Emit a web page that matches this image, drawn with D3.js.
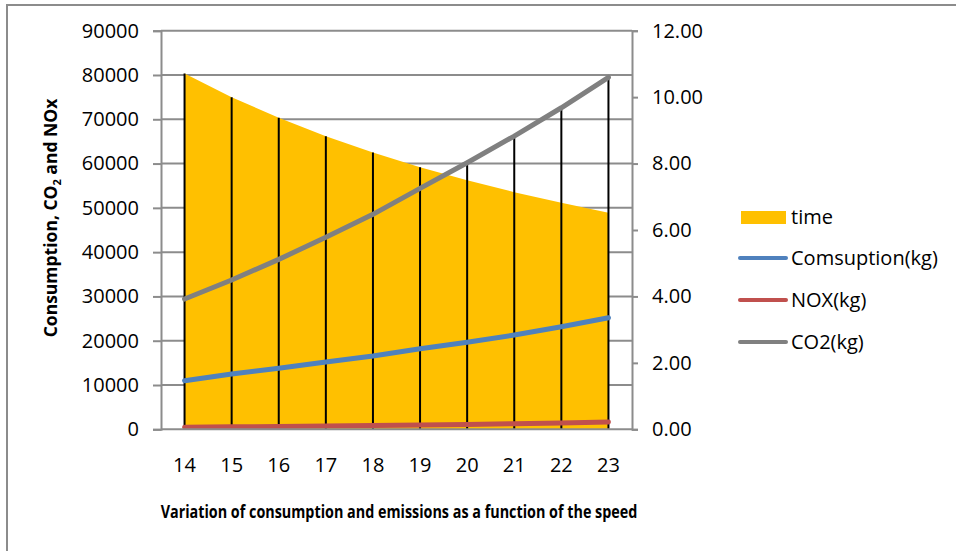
<!DOCTYPE html>
<html><head><meta charset="utf-8">
<script src="https://cdn.jsdelivr.net/npm/d3@7"></script>
<style>body{margin:0;background:#fff}svg{display:block}text{font-family:"Open Sans",sans-serif;fill:#000}</style>
</head><body><svg id="c" width="956" height="551"></svg>
<script>
const categories = [14, 15, 16, 17, 18, 19, 20, 21, 22, 23];
const time = [10.71, 10.00, 9.38, 8.82, 8.33, 7.89, 7.50, 7.14, 6.82, 6.52];
const consumption = [10970, 12480, 13770, 15190, 16550, 18190, 19640, 21290, 23160, 25190];
const nox = [450, 550, 650, 770, 880, 950, 1100, 1250, 1420, 1650];
const co2 = [29410, 33700, 38370, 43340, 48530, 54400, 60180, 66210, 72600, 79460];
const leftTicks = [0, 10000, 20000, 30000, 40000, 50000, 60000, 70000, 80000, 90000];
const rightTicks = [0, 2, 4, 6, 8, 10, 12];
const legendItems = ["time", "Comsuption(kg)", "NOX(kg)", "CO2(kg)"];
const colors = {time: "#FFC000", cons: "#4F81BD", nox: "#C0504D", co2: "#808080"};

const svg = d3.select("#c");
svg.append("rect").attr("x", 7).attr("y", 5).attr("width", 960).attr("height", 560)
  .attr("fill", "#fff").attr("stroke", "#8c8c8c").attr("stroke-width", 2);

const L = 161, R = 632, B = 429.3, T = 30.7;
const x = d3.scaleBand().domain(categories).range([L, R]);
const cx = d => x(d) + x.bandwidth() / 2;
const yL = d3.scaleLinear().domain([0, 90000]).range([B, T]);
const yR = d3.scaleLinear().domain([0, 12]).range([B, T]);
const grid = "#8c8c8c";

// gridlines
svg.append("g").selectAll("line").data(leftTicks.slice(1)).join("line")
  .attr("x1", L).attr("x2", R).attr("y1", d => yL(d)).attr("y2", d => yL(d))
  .attr("stroke", grid).attr("stroke-width", 2);

// area (time, secondary axis)
svg.append("path").datum(categories.map((c, i) => [c, time[i]]))
  .attr("fill", colors.time)
  .attr("d", d3.area().x(d => cx(d[0])).y0(B).y1(d => yR(d[1])));

// drop lines to highest point
svg.append("g").selectAll("line").data(categories).join("line")
  .attr("x1", d => cx(d)).attr("x2", d => cx(d)).attr("y1", B)
  .attr("y2", (d, i) => Math.min(yR(time[i]), yL(co2[i]), yL(consumption[i]), yL(nox[i])))
  .attr("stroke", "#000").attr("stroke-width", 2);

// lines
const line = d3.line().x(d => cx(d[0])).y(d => yL(d[1]));
[[consumption, colors.cons], [nox, colors.nox], [co2, colors.co2]].forEach(([vals, col]) => {
  svg.append("path").datum(categories.map((c, i) => [c, vals[i]]))
    .attr("fill", "none").attr("stroke", col).attr("stroke-width", 5)
    .attr("stroke-linecap", "round").attr("d", line);
});

// axes
const axL = svg.append("g").attr("transform", `translate(${L},0)`)
  .call(d3.axisLeft(yL).tickValues(leftTicks).tickFormat(d3.format("d")).tickSize(8).tickPadding(14));
const axR = svg.append("g").attr("transform", `translate(${R},0)`)
  .call(d3.axisRight(yR).tickValues(rightTicks).tickFormat(d3.format(".2f")).tickSize(6).tickPadding(14));
const axB = svg.append("g").attr("transform", `translate(0,${B})`)
  .call(d3.axisBottom(x).tickValues(categories).tickSize(0).tickPadding(29));
[axL, axR, axB].forEach(a => {
  a.select(".domain").attr("stroke", grid).attr("stroke-width", 2);
  a.selectAll(".tick line").attr("stroke", grid).attr("stroke-width", 2);
  a.selectAll("text").attr("font-size", 20).attr("font-family", "Open Sans").attr("fill", "#000");
});
axB.select(".domain").attr("d", `M${L},0H${R}`);

// axis titles
svg.append("text").attr("transform", "translate(399,518) scale(0.82,1)").attr("text-anchor", "middle")
  .attr("font-size", 17.5).attr("font-weight", "bold")
  .text("Variation of consumption and emissions as a function of the speed");
const yt = svg.append("text").attr("transform", "translate(57,218) rotate(-90)")
  .attr("text-anchor", "middle").attr("font-size", 17.5).attr("font-weight", "bold");
yt.append("tspan").text("Consumption, CO");
yt.append("tspan").attr("font-size", 11).attr("dy", 4).text("2");
yt.append("tspan").attr("dy", -4).text(" and NOx");

// legend
const lg = svg.append("g");
const ly = [217, 258, 300, 342];
lg.append("rect").attr("x", 741).attr("y", 211).attr("width", 45).attr("height", 13).attr("fill", colors.time);
[colors.cons, colors.nox, colors.co2].forEach((c, i) => {
  lg.append("line").attr("x1", 740).attr("x2", 786).attr("y1", ly[i + 1]).attr("y2", ly[i + 1])
    .attr("stroke", c).attr("stroke-width", 4).attr("stroke-linecap", "round");
});
lg.selectAll("text").data(legendItems).join("text")
  .attr("x", 791).attr("y", (d, i) => ly[i]).attr("dy", "0.35em")
  .attr("font-size", 20).text(d => d);
</script></body></html>
